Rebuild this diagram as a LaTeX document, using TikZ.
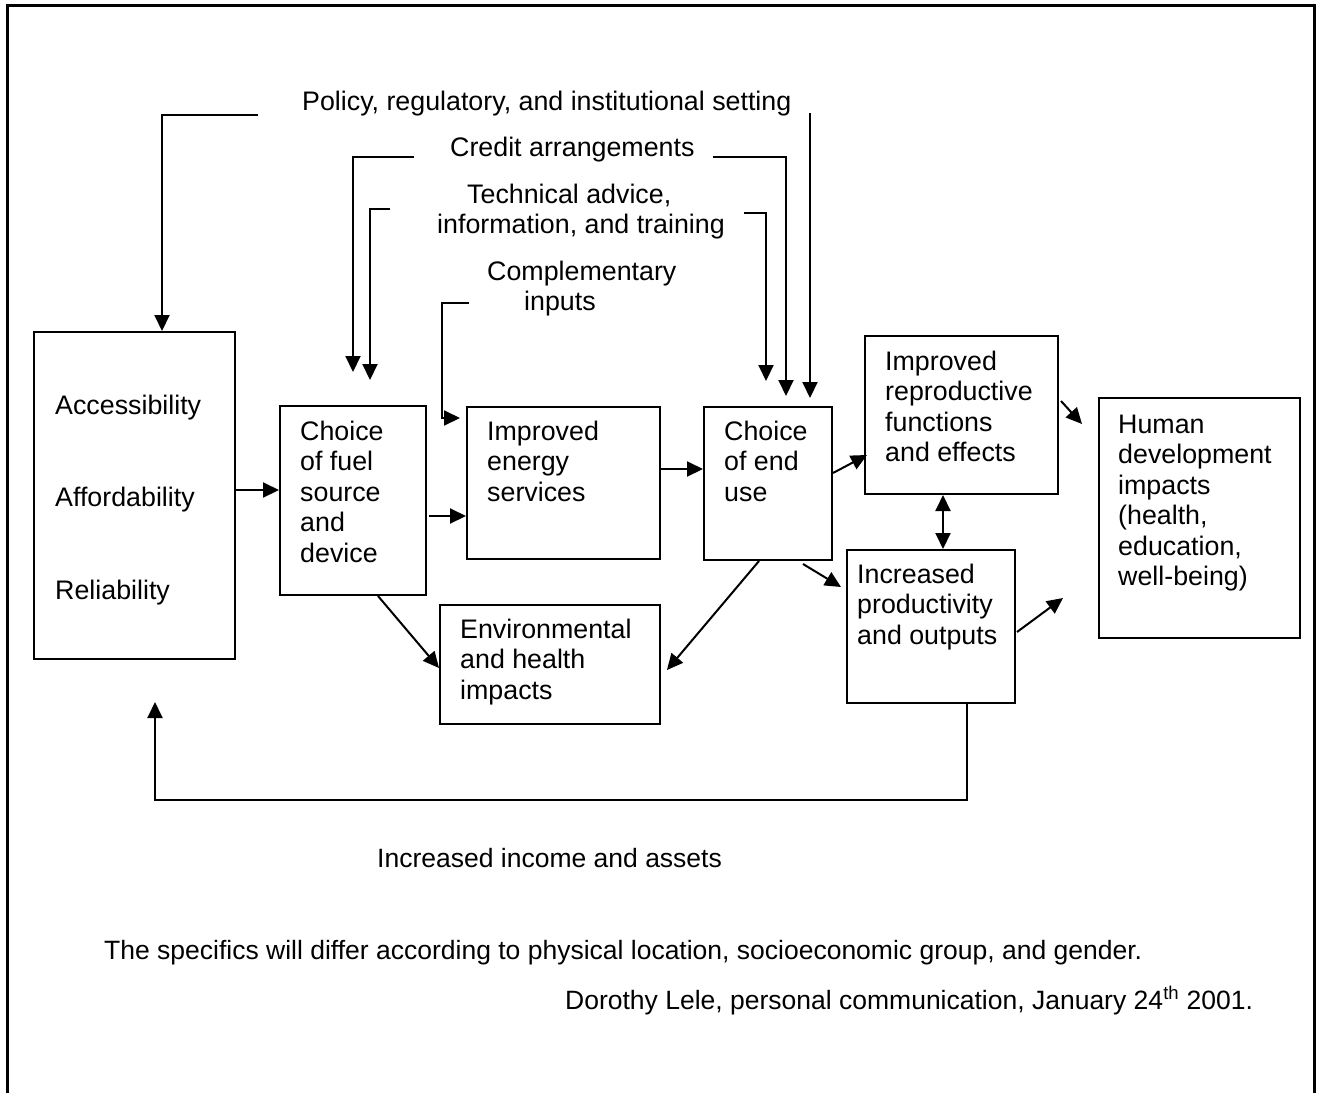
\documentclass[tikz,border=0pt]{standalone}
\usepackage{fontspec}
\setmainfont{Liberation Sans}
\usetikzlibrary{arrows.meta}

% one base-aligned node per line: name, x, first baseline, lines
\newcommand\textlines[4]{%
  \foreach \linetext [count=\i] in {#4} {%
    \node[txt] (#1-\i) at (#2, {#3+30.5*(\i-1)}) {\linetext};}}

\begin{document}
\begin{tikzpicture}[x=1pt, y=-1pt,
  txt/.style={anchor=base west, inner sep=0pt, font=\fontsize{26.8}{30.5}\selectfont},
  foot/.style={txt, font=\fontsize{26.5}{30.5}\selectfont},
  box/.style={draw, line width=2pt, anchor=north west, inner sep=0pt},
  tip/.style={Triangle[length=16pt,width=15pt]},
  arr/.style={line width=2pt, -{Triangle[length=16pt,width=15pt]}},
  arrtwo/.style={line width=2pt, {Triangle[length=16pt,width=15pt]}-{Triangle[length=16pt,width=15pt]}},
  frame/.style={line width=3pt}]

\useasboundingbox (0,0) rectangle (1320,1093);

% outer frame (open at the bottom)
\draw[frame] (7,1093) -- (7,5) -- (1314,5) -- (1314,1093);

% boxes
\node[box, minimum width=201pt, minimum height=327pt] (acc)    at (33,331)  {};
\node[box, minimum width=146pt, minimum height=189pt] (fuel)   at (279,405) {};
\node[box, minimum width=193pt, minimum height=152pt] (energy) at (466,406) {};
\node[box, minimum width=220pt, minimum height=119pt] (env)    at (439,604) {};
\node[box, minimum width=128pt, minimum height=153pt] (enduse) at (703,406) {};
\node[box, minimum width=193pt, minimum height=158pt] (repro)  at (864,335) {};
\node[box, minimum width=168pt, minimum height=153pt] (prod)   at (846,549) {};
\node[box, minimum width=201pt, minimum height=240pt] (human)  at (1098,397) {};

% box texts
\node[txt] (acc-1) at (55,414) {Accessibility};
\node[txt] (acc-2) at (55,506) {Affordability};
\node[txt] (acc-3) at (55,599) {Reliability};
\textlines{fueltxt}{300}{440}{Choice, of fuel, source, and, device}
\textlines{energytxt}{487}{440}{Improved, energy, services}
\textlines{envtxt}{460}{638}{Environmental, and health, impacts}
\textlines{endtxt}{724}{440}{Choice, of end, use}
\textlines{reprotxt}{885}{370}{Improved, reproductive, functions, and effects}
\textlines{prodtxt}{857}{583}{Increased, productivity, and outputs}
\textlines{humantxt}{1118}{433}{Human, development, impacts, {(health,}, {education,}, well-being)}

% setting labels
\node[txt] (policy) at (302,110) {Policy, regulatory, and institutional setting};
\node[txt] (credit) at (450,156) {Credit arrangements};
\node[txt] (tech-1) at (467,203) {Technical advice,};
\node[txt] (tech-2) at (437,233) {information, and training};
\node[txt] (comp-1) at (487,280) {Complementary};
\node[txt] (comp-2) at (524,310) {inputs};
\node[foot] (income) at (377,867) {Increased income and assets};
\node[foot] (note)   at (104,959) {The specifics will differ according to physical location, socioeconomic group, and gender.};
\node[foot] (source) at (565,1009) {Dorothy Lele, personal communication, January 24\textsuperscript{th} 2001.};

% free ends of the setting connectors
\coordinate (polA)  at (258,115);
\coordinate (polB)  at (810,113);
\coordinate (credA) at (414,157);
\coordinate (credB) at (713,157);
\coordinate (techA) at (390,209);
\coordinate (techB) at (744,213);
\coordinate (compA) at (469,303);
\coordinate (compT) at ([xshift=-6pt,yshift=-12pt]energy.north west);

% setting connectors
\draw[arr] (polA) -| ([xshift=129pt]acc.north west);
\draw[arr] (polB) -- ([xshift=107pt,yshift=8pt]enduse.north west);
\draw[arr] (credA) -| ([xshift=74pt,yshift=33pt]fuel.north west);
\draw[arr] (credB) -| ([xshift=83pt,yshift=10pt]enduse.north west);
\draw[arr] (techA) -| ([xshift=91pt,yshift=25pt]fuel.north west);
\draw[arr] (techB) -| ([xshift=63pt,yshift=25pt]enduse.north west);
\draw[arr] (compA) -| ([xshift=-18pt]compT) -- (compT);

% flow between boxes
\coordinate (a1) at ([yshift=-159pt]acc.north east);
\draw[arr] (a1) -- (a1 -| fuel.west);
\coordinate (f1) at ([xshift=2pt,yshift=-111pt]fuel.north east);
\draw[arr] (f1) -- (f1 -| energy.west);
\coordinate (e1) at ([yshift=-63pt]energy.north east);
\draw[arr] (e1) -- (e1 -| enduse.west);
\draw[arr] ([xshift=99pt]fuel.south west) -- ([yshift=-64pt]env.north west);
\draw[arr] ([xshift=56pt]enduse.south west) -- ([xshift=6pt,yshift=-66pt]env.north east);
\draw[arr] ([yshift=-67pt]enduse.north east) -- ([xshift=3pt,yshift=40pt]repro.south west);
\draw[arr] ([xshift=100pt,yshift=-3pt]enduse.south west) -- ([xshift=-5pt,yshift=-38pt]prod.north west);
\draw[arrtwo] ([xshift=79pt]repro.south west) -- ([xshift=97pt]prod.north west);
\draw[arr] ([xshift=2pt,yshift=-66pt]repro.north east) -- ([xshift=-16pt,yshift=-27pt]human.north west);
\draw[arr] ([xshift=1pt,yshift=-83pt]prod.north east) -- ([xshift=-35pt,yshift=-201pt]human.north west);

% income feedback loop
\draw[arr] ([xshift=121pt]prod.south west) -- ++(0,96) -| ([xshift=122pt,yshift=-42pt]acc.south west);

\end{tikzpicture}
\end{document}
